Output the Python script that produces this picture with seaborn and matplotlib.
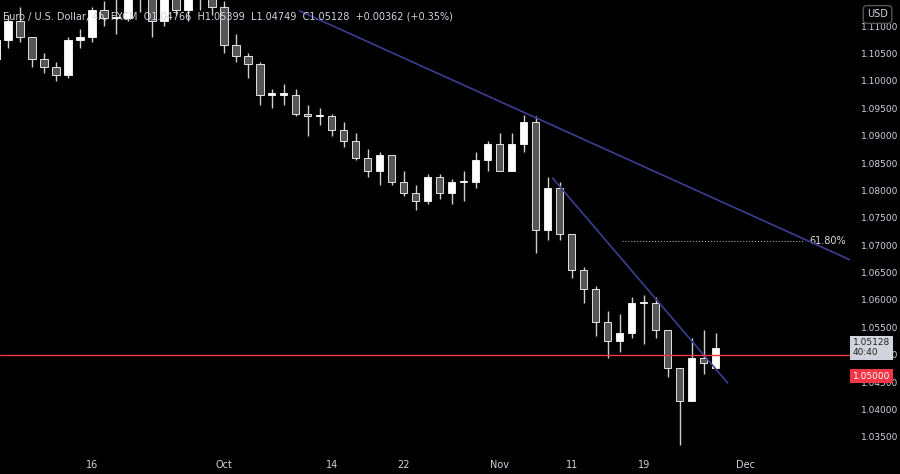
import matplotlib
matplotlib.use("Agg")
import matplotlib.pyplot as plt
import seaborn as sns
import numpy as np
import pandas as pd

closes = [1.1075,1.111,1.108,1.104,1.1025,1.101,1.1075,1.108,1.113,1.1115,1.1115,1.116,1.1165,1.111,1.1185,1.113,1.117,1.1165,1.1135,
          1.1065,1.1045,1.103,1.0975,1.0975,1.0975,1.094,1.0935,1.0935,1.091,1.089,1.086,1.0835,1.0865,1.0815,1.0795,1.078,1.0825,1.0795,1.0815,1.0815,1.0855,1.0885,
          1.0835,1.0885,1.0925,1.0728,1.0805,1.072,1.0655,1.062,1.056,1.0525,1.054,1.0595,1.0595,1.0545,1.0475,1.0415,1.0495,1.0485,1.05128]
highs = [1.1085,1.112,1.1135,1.108,1.105,1.1035,1.108,1.1095,1.1135,1.1145,1.1185,1.118,1.1185,1.117,1.119,1.12,1.1195,1.121,1.1175,
         1.1145,1.1085,1.105,1.1035,1.0985,1.0995,1.0985,1.0955,1.095,1.094,1.0925,1.0905,1.0875,1.087,1.0865,1.0835,1.081,1.083,1.083,1.082,1.0835,1.087,1.089,
         1.0905,1.0905,1.0937,1.0935,1.0825,1.0815,1.072,1.066,1.0625,1.058,1.0575,1.0605,1.061,1.0605,1.0545,1.0475,1.053,1.0545,1.05399]
lows = [1.103,1.106,1.107,1.1025,1.1015,1.1,1.1005,1.106,1.107,1.11,1.1085,1.111,1.1125,1.108,1.11,1.112,1.111,1.113,1.112,
        1.105,1.1035,1.1005,1.0955,1.095,1.0955,1.0935,1.09,1.092,1.09,1.088,1.0855,1.0825,1.081,1.081,1.079,1.0765,1.0775,1.0785,1.0775,1.078,1.0805,1.0835,
        1.0835,1.0845,1.087,1.0685,1.071,1.071,1.064,1.0595,1.0535,1.0495,1.0505,1.053,1.052,1.053,1.046,1.0335,1.043,1.0465,1.04749]
first_open = 1.104
last_open = 1.04766
tick_pos = [8, 19, 28, 34, 42, 48, 54, 62.5]
tick_labels = ["16", "Oct", "14", "22", "Nov", "11", "19", "Dec"]
y_ticks = [1.035,1.04,1.045,1.05,1.055,1.06,1.065,1.07,1.075,1.08,1.085,1.09,1.095,1.10,1.105,1.11]

opens = [first_open] + closes[:-1]
opens[-1] = last_open
df = pd.DataFrame({"i": np.arange(len(closes)), "o": opens, "h": highs, "l": lows, "c": closes})

sns.set_theme(style="dark")
fig = plt.figure(figsize=(9, 4.74), dpi=100, facecolor="black")
ax = fig.add_axes([0, 1-452/474, 850/900, 452/474])
ax.set_facecolor("black")
ax.set_xlim(0.33, 71.2)
ax.set_ylim(1.03226, 1.11475)

ax.vlines(df.i, df.l, df.h, color="#d0d0d0", lw=1, zorder=2)
for r in df.itertuples():
    up = r.c >= r.o
    lo, hi = min(r.o, r.c), max(r.o, r.c)
    ax.add_patch(plt.Rectangle((r.i-0.3, lo), 0.6, max(hi-lo, 0.0002),
                 facecolor="white" if up else "#555555", edgecolor="white", lw=0.6, zorder=3))

def line(i1, p1, i2, p2, xs, xe, **kw):
    s = (p2-p1)/(i2-i1)
    ax.plot([xs, xe], [p1+s*(xs-i1), p1+s*(xe-i1)], **kw)
line(44.5, 1.09376, 71.6, 1.06693, 25.3, 71.6, color="#3a3f8f", lw=1.2, zorder=4)
line(46.4, 1.08226, 61, 1.04485, 46.4, 61, color="#3a3f8f", lw=1.2, zorder=4)
ax.plot([52.2, 67.4], [1.0708, 1.0708], color="#aaaaaa", lw=0.8, ls=":", zorder=4)
ax.text(67.8, 1.0708, "61.80%", color="#dddddd", fontsize=7, va="center")
ax.axhline(1.05, color="#f23645", lw=1, zorder=4)

ax.set_xticks(tick_pos)
ax.set_xticklabels(tick_labels, color="#d1d4dc", fontsize=7)
ax.tick_params(axis="x", length=0, pad=6)
ax.yaxis.tick_right()
ax.set_yticks(y_ticks)
ax.set_yticklabels([f"{v:.5f}" for v in y_ticks], color="#d1d4dc", fontsize=6.5)
ax.tick_params(axis="y", length=0, pad=8)
ax.grid(False)
for s in ax.spines.values():
    s.set_visible(False)

ax.text(1.003, 1.05128, "1.05128\n40:40", transform=ax.get_yaxis_transform(), color="#222222",
        fontsize=6.5, va="center", ha="left", linespacing=1.1,
        bbox=dict(boxstyle="square,pad=0.3", fc="#d1d4dc", ec="none"))
ax.text(1.003, 1.0461, "1.05000", transform=ax.get_yaxis_transform(), color="white",
        fontsize=6.5, va="center", ha="left",
        bbox=dict(boxstyle="square,pad=0.3", fc="#f23645", ec="none"))
fig.text(0.975, 0.98, "USD", color="#d1d4dc", fontsize=7, ha="center", va="top",
         bbox=dict(boxstyle="round,pad=0.4", fc="black", ec="#555555"))
fig.text(0.003, 0.975, "Euro / U.S. Dollar, 4h, FXCM  O1.04766  H1.05399  L1.04749  C1.05128  +0.00362 (+0.35%)",
         color="#d1d4dc", fontsize=7, va="top", ha="left")
fig.savefig("out.png", dpi=100, facecolor="black")
